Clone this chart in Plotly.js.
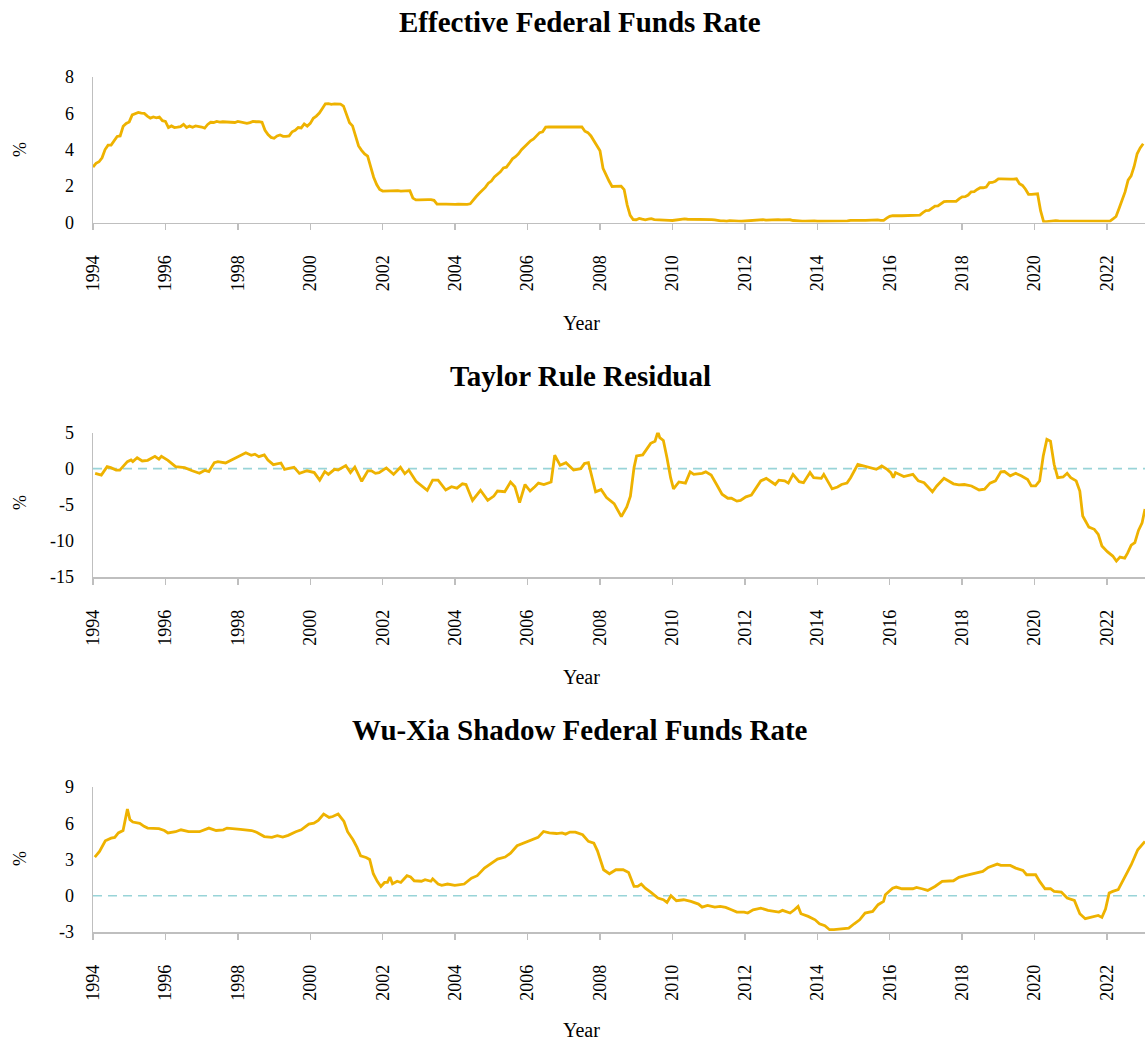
<!DOCTYPE html>
<html>
<head>
<meta charset="utf-8">
<script src="https://cdn.plot.ly/plotly-3.0.1.min.js"></script>
<style>html,body{margin:0;padding:0;background:#fff;}#chart{width:1145px;height:1040px;}</style>
</head>
<body>
<div id="chart"></div>
<script>
// ---------- DATA ----------
const titles = ["Effective Federal Funds Rate", "Taylor Rule Residual", "Wu-Xia Shadow Federal Funds Rate"];
const xTickVals = [1994,1996,1998,2000,2002,2004,2006,2008,2010,2012,2014,2016,2018,2020,2022];
const xTickText = ["1994","1996","1998","2000","2002","2004","2006","2008","2010","2012","2014","2016","2018","2020","2022"];

const y1TickVals = [0,2,4,6,8];
const y1TickText = ["0","2","4","6","8"];
const y2TickVals = [-15,-10,-5,0,5];
const y2TickText = ["-15","-10","-5","0","5"];
const y3TickVals = [-3,0,3,6,9];
const y3TickText = ["-3","0","3","6","9"];

// Effective federal funds rate, monthly, Jan 1994 - Jan 2023
const effrStartYear = 1994;
const effr = [
 3.05,3.25,3.34,3.56,4.01,4.25,4.26,4.47,4.73,4.76,5.29,5.45,
 5.53,5.92,5.98,6.05,6.01,6.00,5.85,5.74,5.80,5.76,5.80,5.60,
 5.56,5.22,5.31,5.22,5.24,5.27,5.40,5.22,5.30,5.24,5.31,5.29,
 5.25,5.19,5.39,5.51,5.50,5.56,5.52,5.54,5.54,5.50,5.52,5.50,
 5.56,5.51,5.49,5.45,5.49,5.56,5.54,5.55,5.51,5.07,4.83,4.68,
 4.63,4.76,4.81,4.74,4.74,4.76,4.99,5.07,5.22,5.20,5.42,5.30,
 5.45,5.73,5.85,6.02,6.27,6.53,6.54,6.50,6.52,6.51,6.51,6.40,
 5.98,5.49,5.31,4.80,4.21,3.97,3.77,3.65,3.07,2.49,2.09,1.82,
 1.73,1.74,1.73,1.75,1.75,1.75,1.73,1.74,1.75,1.75,1.34,1.24,
 1.24,1.26,1.25,1.26,1.26,1.22,1.01,1.03,1.01,1.01,1.00,0.98,
 1.00,1.01,1.00,1.00,1.00,1.03,1.26,1.43,1.61,1.76,1.93,2.16,
 2.28,2.50,2.63,2.79,3.00,3.04,3.26,3.50,3.62,3.78,4.00,4.16,
 4.29,4.49,4.59,4.79,4.94,4.99,5.24,5.25,5.25,5.25,5.25,5.24,
 5.25,5.26,5.26,5.25,5.25,5.25,5.26,5.02,4.94,4.76,4.49,4.24,
 3.94,2.98,2.61,2.28,1.98,2.00,2.01,2.00,1.81,0.97,0.39,0.16,
 0.15,0.22,0.18,0.15,0.18,0.21,0.16,0.16,0.15,0.12,0.12,0.12,
 0.11,0.13,0.16,0.20,0.20,0.18,0.18,0.19,0.19,0.19,0.19,0.18,
 0.17,0.16,0.14,0.10,0.09,0.09,0.07,0.10,0.08,0.07,0.08,0.07,
 0.08,0.10,0.13,0.14,0.16,0.16,0.16,0.13,0.14,0.16,0.16,0.16,
 0.14,0.15,0.14,0.15,0.11,0.09,0.09,0.08,0.08,0.09,0.08,0.09,
 0.07,0.07,0.08,0.09,0.09,0.10,0.09,0.09,0.09,0.09,0.09,0.12,
 0.11,0.11,0.11,0.12,0.12,0.13,0.13,0.14,0.14,0.12,0.12,0.24,
 0.34,0.38,0.36,0.37,0.37,0.38,0.39,0.40,0.40,0.40,0.41,0.54,
 0.65,0.66,0.79,0.90,0.91,1.04,1.15,1.16,1.15,1.15,1.16,1.30,
 1.41,1.42,1.51,1.69,1.70,1.82,1.91,1.91,1.95,2.19,2.20,2.27,
 2.40,2.40,2.41,2.42,2.39,2.38,2.40,2.13,2.04,1.83,1.55,1.55,
 1.55,1.58,0.65,0.05,0.05,0.08,0.09,0.10,0.09,0.09,0.09,0.09,
 0.09,0.08,0.07,0.07,0.06,0.08,0.10,0.09,0.08,0.08,0.08,0.08,
 0.08,0.08,0.20,0.33,0.77,1.21,1.68,2.33,2.56,3.08,3.78,4.10,
 4.33
];

// Taylor rule residual (decimal year, %)
const taylorYears = [
 1994.06,1994.23,1994.39,1994.49,1994.64,1994.74,1994.95,1995.05,1995.10,1995.22,1995.36,1995.51,1995.71,1995.82,1995.89,
 1996.07,1996.28,1996.53,1996.74,1996.94,1997.09,1997.20,1997.35,1997.45,1997.66,1997.86,1998.22,1998.37,1998.47,1998.58,
 1998.73,1998.83,1998.98,1999.19,1999.29,1999.55,1999.70,1999.91,2000.11,2000.26,2000.40,2000.50,2000.67,2000.77,2000.98,
 2001.11,2001.23,2001.42,2001.59,2001.69,2001.80,2001.90,2002.10,2002.30,2002.49,2002.61,2002.72,2002.92,2003.23,2003.38,
 2003.53,2003.74,2003.90,2004.05,2004.20,2004.30,2004.48,2004.70,2004.90,2005.07,2005.17,2005.37,2005.53,2005.65,2005.78,
 2005.93,2006.07,2006.20,2006.30,2006.45,2006.65,2006.75,2006.90,2007.06,2007.17,2007.27,2007.47,2007.57,2007.68,2007.88,
 2008.03,2008.18,2008.39,2008.59,2008.74,2008.84,2008.94,2009.01,2009.18,2009.30,2009.40,2009.52,2009.60,2009.65,2009.75,
 2009.85,2009.95,2010.03,2010.18,2010.36,2010.49,2010.59,2010.82,2010.92,2011.07,2011.22,2011.37,2011.53,2011.63,2011.78,
 2011.88,2012.03,2012.18,2012.44,2012.59,2012.84,2012.94,2013.10,2013.20,2013.33,2013.50,2013.62,2013.80,2013.90,2014.11,
 2014.18,2014.41,2014.56,2014.67,2014.82,2014.92,2015.12,2015.27,2015.43,2015.63,2015.78,2015.93,2016.03,2016.10,2016.16,
 2016.29,2016.39,2016.64,2016.79,2016.95,2017.05,2017.18,2017.30,2017.50,2017.76,2017.91,2018.06,2018.26,2018.47,2018.62,
 2018.77,2018.92,2019.07,2019.17,2019.33,2019.48,2019.63,2019.81,2019.91,2020.03,2020.14,2020.24,2020.34,2020.44,2020.54,
 2020.64,2020.79,2020.90,2021.00,2021.15,2021.25,2021.33,2021.50,2021.65,2021.76,2021.86,2022.01,2022.16,2022.26,2022.36,
 2022.49,2022.57,2022.67,2022.77,2022.87,2022.97,2023.05
];
const taylorValues = [
 -0.65,-0.9,0.28,0.14,-0.2,-0.2,0.97,1.2,0.97,1.5,1.06,1.15,1.7,1.3,1.7,
 1.15,0.28,0.14,-0.3,-0.65,-0.23,-0.4,0.83,0.97,0.78,1.3,2.2,1.85,2.0,1.66,
 1.9,1.2,0.55,0.78,-0.1,0.2,-0.65,-0.3,-0.55,-1.6,-0.4,-0.8,-0.1,-0.2,0.42,
 -0.55,0.2,-1.75,-0.3,-0.3,-0.65,-0.55,0.1,-0.8,0.2,-0.7,-0.2,-1.75,-3.0,-1.6,
 -1.6,-2.96,-2.5,-2.7,-2.1,-2.2,-4.4,-3.0,-4.4,-3.8,-3.1,-3.2,-1.85,-2.5,-4.7,
 -2.2,-3.1,-2.5,-2.0,-2.2,-1.85,1.85,0.46,0.83,0.3,-0.2,0.0,0.7,0.83,-3.2,
 -2.9,-4.0,-4.85,-6.65,-5.3,-3.8,0.14,1.75,1.9,2.7,3.5,3.8,5.1,4.3,3.9,
 1.5,-1.25,-2.8,-1.85,-2.0,-0.45,-0.8,-0.65,-0.45,-0.9,-2.2,-3.55,-4.1,-4.1,-4.5,
 -4.4,-3.9,-3.65,-1.7,-1.35,-2.2,-1.6,-1.7,-2.0,-0.8,-1.8,-1.95,-0.55,-1.25,-1.35,
 -0.8,-2.8,-2.55,-2.2,-2.0,-1.25,0.6,0.37,0.14,-0.1,0.37,-0.1,-0.55,-1.25,-0.55,
 -0.8,-1.1,-0.8,-1.7,-1.95,-2.5,-3.2,-2.4,-1.35,-2.1,-2.25,-2.2,-2.4,-2.95,-2.85,
 -2.0,-1.7,-0.45,-0.4,-1.0,-0.65,-1.0,-1.5,-2.4,-2.4,-1.7,1.75,4.05,3.8,0.6,
 -1.25,-1.15,-0.65,-1.25,-1.7,-3.1,-6.55,-8.1,-8.4,-9.1,-10.7,-11.5,-12.1,-12.8,-12.25,
 -12.4,-11.7,-10.6,-10.25,-8.55,-7.5,-5.6
];

// Wu-Xia shadow federal funds rate (decimal year, %)
const shadowYears = [
 1994.05,1994.18,1994.34,1994.50,1994.60,1994.70,1994.83,1994.95,1995.02,1995.10,1995.29,1995.41,1995.51,1995.82,1995.97,
 1996.07,1996.28,1996.43,1996.64,1996.94,1997.20,1997.40,1997.60,1997.70,1998.07,1998.38,1998.53,1998.73,1998.94,1999.09,
 1999.24,1999.39,1999.60,1999.75,1999.96,2000.10,2000.22,2000.37,2000.52,2000.62,2000.77,2000.93,2001.03,2001.18,2001.29,
 2001.39,2001.54,2001.64,2001.74,2001.85,2001.95,2002.05,2002.13,2002.20,2002.27,2002.40,2002.50,2002.67,2002.77,2002.87,
 2003.07,2003.17,2003.33,2003.38,2003.53,2003.63,2003.79,2003.99,2004.09,2004.25,2004.45,2004.61,2004.81,2005.02,2005.17,
 2005.38,2005.53,2005.71,2005.94,2006.14,2006.29,2006.44,2006.60,2006.80,2006.95,2007.05,2007.17,2007.32,2007.52,2007.68,
 2007.83,2007.93,2008.10,2008.26,2008.44,2008.64,2008.79,2008.94,2009.04,2009.14,2009.25,2009.40,2009.60,2009.75,2009.85,
 2009.96,2010.11,2010.31,2010.51,2010.72,2010.82,2010.97,2011.17,2011.32,2011.47,2011.63,2011.78,2011.98,2012.08,2012.23,
 2012.44,2012.64,2012.84,2012.94,2013.04,2013.25,2013.37,2013.47,2013.55,2013.75,2013.94,2014.06,2014.21,2014.34,2014.46,
 2014.67,2014.87,2015.02,2015.17,2015.32,2015.53,2015.68,2015.83,2015.88,2016.08,2016.18,2016.34,2016.64,2016.74,2016.89,
 2017.05,2017.25,2017.45,2017.76,2017.91,2018.11,2018.31,2018.41,2018.57,2018.72,2018.97,2019.07,2019.33,2019.48,2019.68,
 2019.78,2020.03,2020.14,2020.29,2020.44,2020.54,2020.74,2020.90,2021.10,2021.25,2021.40,2021.55,2021.76,2021.86,2021.96,
 2022.06,2022.16,2022.31,2022.47,2022.67,2022.85,2023.05
];
const shadowValues = [
 3.2,3.67,4.55,4.77,4.83,5.2,5.4,7.17,6.3,6.1,6.0,5.74,5.6,5.55,5.4,
 5.2,5.3,5.46,5.3,5.3,5.6,5.4,5.46,5.6,5.5,5.4,5.24,4.9,4.83,4.97,
 4.86,5.0,5.3,5.46,5.93,6.0,6.23,6.76,6.48,6.56,6.76,6.15,5.3,4.63,4.0,
 3.3,3.17,3.0,1.82,1.19,0.77,1.1,1.1,1.55,1.0,1.2,1.1,1.66,1.55,1.24,
 1.2,1.33,1.2,1.4,0.97,0.86,0.97,0.86,0.9,0.97,1.46,1.66,2.29,2.7,3.03,
 3.2,3.53,4.14,4.41,4.63,4.83,5.32,5.2,5.15,5.2,5.1,5.27,5.27,5.05,4.5,
 4.36,3.72,2.15,1.82,2.15,2.15,1.93,0.77,0.77,0.97,0.63,0.3,-0.19,-0.33,-0.55,
 0.0,-0.41,-0.33,-0.47,-0.69,-0.94,-0.8,-0.94,-0.88,-0.97,-1.16,-1.35,-1.35,-1.43,-1.16,
 -1.02,-1.21,-1.3,-1.35,-1.21,-1.43,-1.16,-0.88,-1.49,-1.71,-1.99,-2.32,-2.48,-2.81,-2.81,
 -2.73,-2.68,-2.32,-1.99,-1.43,-1.3,-0.74,-0.47,0.08,0.63,0.72,0.58,0.58,0.69,0.58,
 0.44,0.77,1.19,1.24,1.52,1.68,1.82,1.93,2.01,2.34,2.62,2.51,2.51,2.29,2.1,
 1.74,1.74,1.19,0.58,0.58,0.36,0.3,-0.19,-0.39,-1.49,-1.9,-1.77,-1.63,-1.79,-1.1,
 0.22,0.36,0.5,1.46,2.57,3.81,4.5
];

// ---------- CHART ----------
const gold = '#EEB200';
const axisGray = '#BFBFBF';
const serif = 'Liberation Serif, Times New Roman, serif';
const effrX = effr.map((v, i) => effrStartYear + i / 12);

const traces = [
  {x: effrX, y: effr, type: 'scatter', mode: 'lines', line: {color: gold, width: 2.8}, xaxis: 'x', yaxis: 'y', showlegend: false, name: titles[0]},
  {x: taylorYears, y: taylorValues, type: 'scatter', mode: 'lines', line: {color: gold, width: 2.8}, xaxis: 'x2', yaxis: 'y2', showlegend: false, name: titles[1]},
  {x: shadowYears, y: shadowValues, type: 'scatter', mode: 'lines', line: {color: gold, width: 2.8}, xaxis: 'x3', yaxis: 'y3', showlegend: false, name: titles[2]}
];

const W = 1145, H = 1040, L = 93, R = 0;
const plotW = W - L - R;
const px = v => (v - L) / plotW;      // pixel x -> paper x
const py = v => 1 - v / H;            // pixel y -> paper y

function xAxis(anchor) {
  return {
    anchor: anchor, domain: [0, 1], range: [1994, 2023.05],
    tickvals: xTickVals, ticktext: xTickText, tickangle: -90,
    ticks: 'outside', ticklen: 6, tickwidth: 1.5, tickcolor: axisGray,
    ticklabelstandoff: 18,
    showline: true, linecolor: axisGray, linewidth: 1.5,
    showgrid: false, zeroline: false,
    tickfont: {family: serif, size: 18, color: '#000'}
  };
}
function yAxis(anchor, domain, range, vals, text) {
  return {
    anchor: anchor, domain: domain, range: range,
    tickvals: vals, ticktext: text, ticks: '', ticklabelstandoff: 14,
    showline: true, linecolor: axisGray, linewidth: 1.5,
    showgrid: false, zeroline: false,
    tickfont: {family: serif, size: 18, color: '#000'}
  };
}

const zeroDash = {color: '#98D4D8', width: 1.6, dash: '9px,6px'};
const layout = {
  width: W, height: H,
  margin: {l: L, r: R, t: 0, b: 0},
  paper_bgcolor: '#fff', plot_bgcolor: '#fff',
  showlegend: false,
  xaxis: xAxis('y'),
  yaxis: yAxis('x', [py(222.5), py(77)], [0, 8], y1TickVals, y1TickText),
  xaxis2: xAxis('y2'),
  yaxis2: yAxis('x2', [py(577), py(432.5)], [-15, 5], y2TickVals, y2TickText),
  xaxis3: xAxis('y3'),
  yaxis3: yAxis('x3', [py(932), py(787)], [-3, 9], y3TickVals, y3TickText),
  shapes: [
    {type: 'line', xref: 'x2 domain', x0: 0, x1: 1, yref: 'y2', y0: 0, y1: 0, line: zeroDash, layer: 'below'},
    {type: 'line', xref: 'x3 domain', x0: 0, x1: 1, yref: 'y3', y0: 0, y1: 0, line: zeroDash, layer: 'below'}
  ],
  annotations: []
};

const titleY = [22, 376, 730];
const yearY = [323, 677, 1030];
const pctY = [150, 503, 859];
for (let i = 0; i < 3; i++) {
  layout.annotations.push({text: '<b>' + titles[i] + '</b>', xref: 'paper', yref: 'paper', x: px(580), y: py(titleY[i]),
    xanchor: 'center', yanchor: 'middle', showarrow: false, font: {family: serif, size: 29, color: '#000'}});
  layout.annotations.push({text: 'Year', xref: 'paper', yref: 'paper', x: px(581), y: py(yearY[i]),
    xanchor: 'center', yanchor: 'middle', showarrow: false, font: {family: serif, size: 20, color: '#000'}});
  layout.annotations.push({text: '%', xref: 'paper', yref: 'paper', x: px(20), y: py(pctY[i]), textangle: -90,
    xanchor: 'center', yanchor: 'middle', showarrow: false, font: {family: serif, size: 18, color: '#000'}});
}

Plotly.newPlot('chart', traces, layout, {displayModeBar: false, staticPlot: true});
</script>
</body>
</html>
